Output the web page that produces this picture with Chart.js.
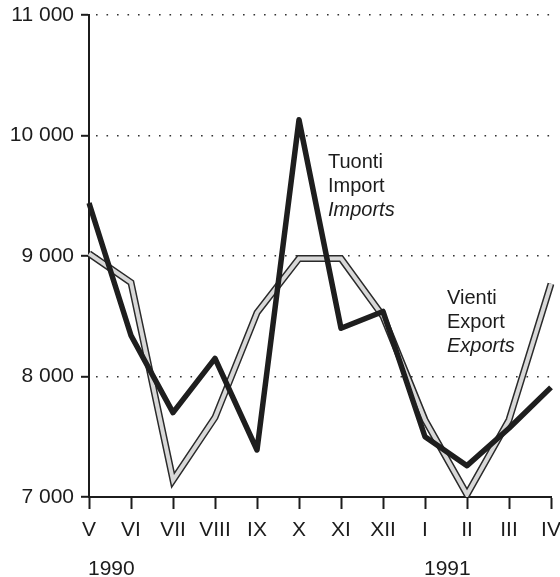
<!DOCTYPE html>
<html>
<head>
<meta charset="utf-8">
<script src="https://cdn.jsdelivr.net/npm/chart.js@4/dist/chart.umd.min.js"></script>
<style>
  html, body { margin: 0; padding: 0; background: #fff; }
  #wrap { width: 560px; height: 577px; }
</style>
</head>
<body>
<div id="wrap"><canvas id="myChart"></canvas></div>
<script>
'use strict';

// kuukaudet 5/1990 - 4/1991
var months = ["V", "VI", "VII", "VIII", "IX", "X", "XI", "XII", "I", "II", "III", "IV"];
var imports = [9440, 8340, 7700, 8150, 7390, 10130, 8400, 8540, 7500, 7260, 7570, 7910];
var exports = [9020, 8780, 7140, 7660, 8530, 8980, 8980, 8500, 7640, 7020, 7640, 8770];
var yTicks = [7000, 8000, 9000, 10000, 11000];
var yTickLabels = ["7 000", "8 000", "9 000", "10 000", "11 000"];
var years = ["1990", "1991"];
var yearStart = [0, 8];   // index in months where the year begins

var fontFamily = "'Liberation Sans', Arial, sans-serif";
var ink = '#1c1c1c';

var textPlugin = {
  id: 'texts',
  afterDraw: function (chart) {
    var ctx = chart.ctx;
    var x = chart.scales.x;
    ctx.save();
    ctx.fillStyle = ink;
    ctx.textBaseline = 'alphabetic';
    ctx.textAlign = 'left';
    ctx.font = '21px ' + fontFamily;
    years.forEach(function (y, i) {
      ctx.fillText(y, x.getPixelForValue(yearStart[i]) - 1, 575);
    });

    // Tuonti
    ctx.font = '20px ' + fontFamily;
    ctx.fillText('Tuonti', 328, 168);
    ctx.fillText('Import', 328, 192);
    ctx.font = 'italic 20px ' + fontFamily;
    ctx.fillText('Imports', 328, 216);

    // Vienti
    ctx.font = '20px ' + fontFamily;
    ctx.fillText('Vienti', 447, 304);
    ctx.fillText('Export', 447, 328);
    ctx.font = 'italic 20px ' + fontFamily;
    ctx.fillText('Exports', 447, 352);
    ctx.restore();
  }
};

var ctx = document.getElementById('myChart');
var myChart = new Chart(ctx, {
  type: 'line',
  data: {
    labels: months,
    datasets: [{
      label: 'Tuonti',
      data: imports,
      borderColor: '#1e1e1e',
      borderWidth: 5.5,
      borderJoinStyle: 'round',
      pointRadius: 0,
      tension: 0
    }, {
      label: 'Vienti',
      data: exports,
      borderColor: '#d8d8d8',
      borderWidth: 4,
      borderJoinStyle: 'miter',
      pointRadius: 0,
      tension: 0
    }, {
      label: 'Vienti reuna',
      data: exports,
      borderColor: '#2a2a2a',
      borderWidth: 7,
      borderJoinStyle: 'miter',
      pointRadius: 0,
      tension: 0
    }]
  },
  plugins: [textPlugin],
  options: {
    responsive: true,
    maintainAspectRatio: false,
    animation: false,
    layout: {
      padding: { top: 15, right: 9, left: 0, bottom: 0 }
    },
    plugins: {
      legend: { display: false },
      tooltip: { enabled: false }
    },
    scales: {
      x: {
        offset: false,
        grid: {
          drawOnChartArea: false,
          drawTicks: true,
          tickLength: 12,
          tickColor: ink,
          tickWidth: 2
        },
        border: { color: ink, width: 2 },
        ticks: {
          color: ink,
          font: { family: fontFamily, size: 21 },
          padding: 9,
          maxRotation: 0,
          autoSkip: false
        },
        afterFit: function (scale) {
          scale.height = 80;
          scale.paddingLeft = 0;
          scale.paddingRight = 0;
        }
      },
      y: {
        min: 7000,
        max: 11000,
        afterBuildTicks: function (scale) {
          scale.ticks = yTicks.map(function (v) { return { value: v }; });
        },
        grid: {
          color: '#333',
          lineWidth: 1.6,
          drawTicks: true,
          tickLength: 8,
          tickColor: ink,
          tickWidth: 2,
          tickBorderDash: []
        },
        border: { color: ink, width: 2, dash: [1.6, 8.9], dashOffset: -6 },
        ticks: {
          color: ink,
          font: { family: fontFamily, size: 21 },
          padding: 7,
          callback: function (value) {
            var i = yTicks.indexOf(value);
            return i >= 0 ? yTickLabels[i] : '';
          }
        },
        afterFit: function (scale) {
          scale.width = 89;
          scale.paddingTop = 0;
          scale.paddingBottom = 0;
        }
      }
    }
  }
});
</script>
</body>
</html>
